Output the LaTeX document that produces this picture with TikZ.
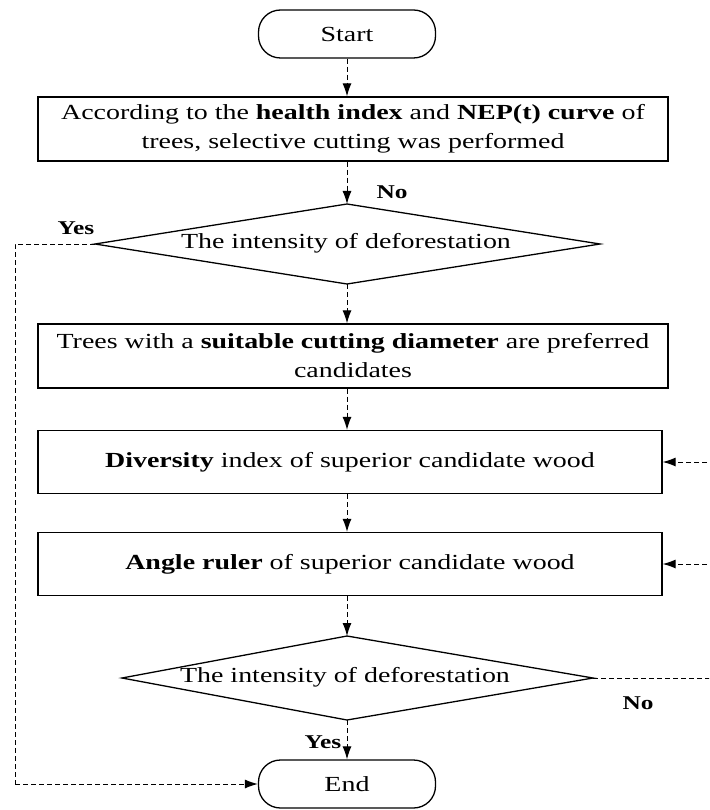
\documentclass[tikz,border=0pt]{standalone}
\usepackage{fontspec}
\setmainfont{Liberation Serif}[FakeStretch=1.3]
\usetikzlibrary{arrows.meta}
\begin{document}
\begin{tikzpicture}[x=1pt,y=-1pt,
  every node/.style={font=\fontsize{21.5}{29}\selectfont},
  term/.style={draw, line width=1.3pt, rounded corners=22pt, minimum width=177pt, minimum height=48pt, inner sep=0pt},
  proc/.style={draw, line width=1.3pt, minimum width=630pt, minimum height=64pt, inner sep=0pt, align=center},
  proc2/.style={draw, line width=1.3pt, minimum width=624pt, minimum height=63pt, inner sep=0pt, align=center},
  dec/.style={draw, line width=1.3pt, line join=miter},
  flow/.style={dashed, dash pattern=on 5pt off 3pt, line width=1pt, -{Latex[length=13pt,width=9pt]}},
  fline/.style={dashed, dash pattern=on 5pt off 3pt, line width=1pt},
  lab/.style={font=\fontsize{19.5}{24}\selectfont\bfseries}]
\useasboundingbox (0,0) rectangle (709,810);
\clip (0,0) rectangle (709,810);
\node[term] (start) at (347,34) {Start};
\node[proc] (b1) at (353,129) {According to the \textbf{health index} and \textbf{NEP(t) curve} of\\trees, selective cutting was performed};
% diamond 1
\coordinate (d1l) at (95,244);
\coordinate (d1r) at (600,244);
\coordinate (d1t) at (347,204);
\coordinate (d1b) at (347,284);
\draw[dec] (d1l) -- (d1t) -- (d1r) -- (d1b) -- cycle;
\node (d1) at (346,243) {The intensity of deforestation};
\node[proc] (b2) at (353,356) {Trees with a \textbf{suitable cutting diameter} are preferred\\candidates};
\node[proc2] (b3) at (350,462) {\textbf{Diversity} index of superior candidate wood};
\node[proc2] (b4) at (350,564) {\textbf{Angle ruler} of superior candidate wood};
% diamond 2
\coordinate (d2l) at (122,678);
\coordinate (d2r) at (593,678);
\coordinate (d2t) at (347,636);
\coordinate (d2b) at (347,720);
\draw[dec] (d2l) -- (d2t) -- (d2r) -- (d2b) -- cycle;
\node (d2) at (345,677) {The intensity of deforestation};
\node[term] (end) at (347,784) {End};
\coordinate (lc1) at (15,244);
\coordinate (lc2) at (15,784);
\coordinate (rc1) at (715,678);
\coordinate (rc4) at (715,564);
\coordinate (rc3) at (715,462);
\draw[flow] (start) -- (b1.north -| start);
\draw[flow] (b1.south -| start) -- (d1t);
\draw[flow] (d1b) -- (b2.north -| d1b);
\draw[flow] (b2.south -| d1b) -- (b3.north -| d1b);
\draw[flow] (b3.south -| d1b) -- (b4.north -| d1b);
\draw[flow] (b4.south -| d1b) -- (d2t);
\draw[flow] (d2b) -- (end);
\draw[fline] (d1l) -- (lc1) -- (lc2);
\draw[flow] (lc2) -- (end.west);
\draw[fline] (d2r) -- (rc1) -- (rc3);
\draw[flow] (rc4) -- (b4.east);
\draw[flow] (rc3) -- (b3.east);
\node[lab] (no1) at (392,192) {No};
\node[lab] (yes1) at (76,228) {Yes};
\node[lab] (no2) at (638,703) {No};
\node[lab] (yes2) at (323,742) {Yes};
\end{tikzpicture}
\end{document}
